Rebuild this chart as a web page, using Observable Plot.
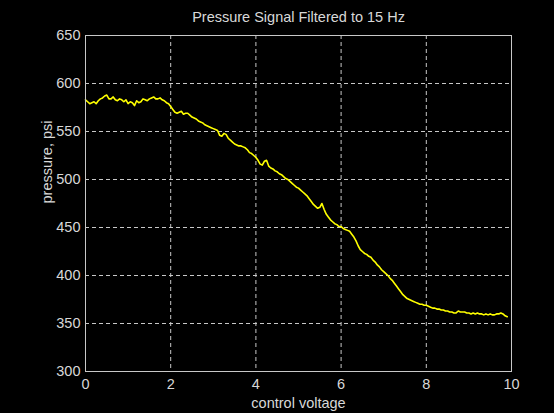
<!DOCTYPE html>
<html>
<head>
<meta charset="utf-8">
<script src="https://cdn.jsdelivr.net/npm/d3@7"></script>
<script src="https://cdn.jsdelivr.net/npm/@observablehq/plot@0.6"></script>
<style>
  html, body { margin: 0; padding: 0; background: #000; }
  #chart { width: 554px; height: 413px; }
</style>
</head>
<body>
<div id="chart"></div>
<script>
const titleText = "Pressure Signal Filtered to 15 Hz";
const xLabel = "control voltage";
const yLabel = "pressure, psi";
const xTicks = [0, 2, 4, 6, 8, 10];
const yTicks = [300, 350, 400, 450, 500, 550, 600, 650];
const sampleStep = 0.05; // control voltage step between samples
const pressure = [
  583, 581, 579, 580, 581, 579, 582, 584, 585, 587,
  588, 584, 584, 586, 583, 582, 584, 583, 581, 583,
  579, 581, 580, 577, 582, 580, 581, 584, 583, 582,
  584, 585, 586, 584, 584, 585, 583, 582, 580, 579,
  576, 573, 570, 569, 570, 571, 568, 569, 569, 567,
  565, 564, 563, 561, 560, 559, 557, 556, 555, 554,
  553, 552, 551, 546, 545, 548, 547, 543, 541, 539,
  537, 536, 535, 535, 534, 533, 531, 528, 527, 525,
  523, 520, 516, 515, 519, 520, 514, 512, 511, 509,
  508, 506, 505, 503, 501, 500, 498, 496, 494, 492,
  491, 489, 487, 485, 483, 480, 477, 474, 472, 470,
  471, 475, 469, 464, 461, 458, 456, 454, 453, 451,
  451, 449, 448, 447, 446, 443, 440, 436, 431, 427,
  425, 423, 422, 420, 419, 416, 414, 411, 409, 406,
  404, 402, 400, 397, 395, 392, 389, 386, 383, 380,
  378, 376, 375, 374, 373, 372, 371, 370, 370, 369,
  369, 368, 367, 366, 366, 365, 365, 364, 364, 363,
  363, 362, 362, 361, 361, 363, 362, 362, 362, 361,
  361, 360, 361, 360, 361, 360, 360, 359, 360, 359,
  360, 359, 359, 360, 360, 361, 360, 358, 357
];
const voltage = pressure.map((_, i) => +(i * sampleStep).toFixed(2));
const data = pressure.map((p, i) => ({v: voltage[i], p}));

const fg = "#d8d8d8";
const gridColor = "#c8c8c8";

const chart = Plot.plot({
  width: 554,
  height: 413,
  marginLeft: 85,
  marginRight: 43,
  marginTop: 35,
  marginBottom: 42,
  style: {
    background: "#000",
    color: fg,
    fontFamily: "'Liberation Sans', Arial, sans-serif",
    fontSize: "14.5px"
  },
  x: {domain: [0, 10], label: null},
  y: {domain: [300, 650], label: null},
  marks: [
    Plot.gridX(xTicks.slice(1, -1), {stroke: gridColor, strokeOpacity: 1, strokeDasharray: "4,3"}),
    Plot.gridY(yTicks.slice(1, -1), {stroke: gridColor, strokeOpacity: 1, strokeDasharray: "4,3"}),
    Plot.line(data, {x: "v", y: "p", stroke: "#ffff00", strokeWidth: 1.6}),
    Plot.frame({stroke: gridColor}),
    Plot.axisX(xTicks, {tickSize: 0, tickPadding: 7, label: null, fill: fg, fontSize: "14.5px"}),
    Plot.axisY(yTicks, {tickSize: 0, tickPadding: 5, label: null, fill: fg, fontSize: "14.5px"}),
    Plot.text([titleText], {frameAnchor: "top", dy: -18, fill: fg, fontSize: "14.5px", lineAnchor: "middle"}),
    Plot.text([xLabel], {frameAnchor: "bottom", dy: 32, fill: fg, fontSize: "14.5px", lineAnchor: "middle"}),
    Plot.text([yLabel], {frameAnchor: "left", dx: -38, rotate: -90, fill: fg, fontSize: "14.5px", lineAnchor: "middle"})
  ]
});
document.getElementById("chart").appendChild(chart);
</script>
</body>
</html>
